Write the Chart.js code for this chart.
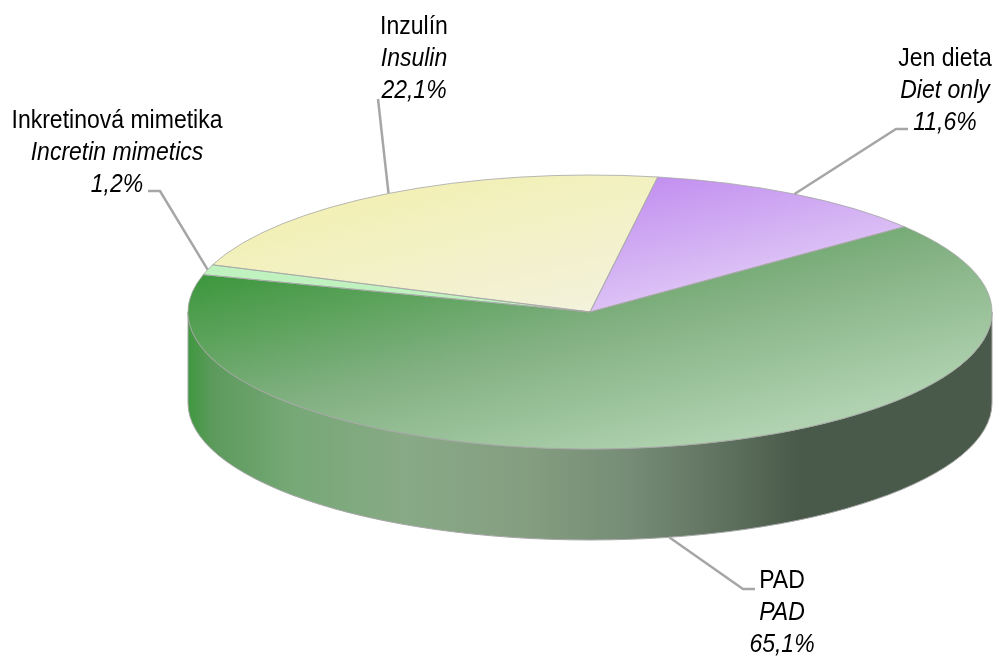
<!DOCTYPE html>
<html lang="cs">
<head>
    <meta charset="UTF-8">
    <title>Pie 3D</title>
    <script src="https://cdn.jsdelivr.net/npm/chart.js"></script>
    <style>
        body { margin: 0; background: white; }
        canvas { display: block; }
    </style>
</head>
<body>
    <canvas id="pieChart" width="996" height="661"></canvas>
    <script>
        const categoriesCz = ['Jen dieta', 'PAD', 'Inkretinová mimetika', 'Inzulín'];
        const categoriesEn = ['Diet only', 'PAD', 'Incretin mimetics', 'Insulin'];
        const values = [11.6, 65.1, 1.2, 22.1];

        const squash = 137 / 402; // tilt of the pie, height of ellipse / width
        const depth = 91;         // height of the side wall
        const narrow = 0.885;     // no narrow font installed, so the text gets squeezed

        // where each label sits: centre x, first baseline, start of the leader line
        const labelPlaces = [
            { x: 945, y: 66, leader: [[908, 129], [896, 129]] },
            { x: 782, y: 588, leader: [[755, 589], [743, 589]] },
            { x: 117, y: 128, leader: [[148, 191], [160, 191]] },
            { x: 414, y: 34, leader: [[378, 99]] }
        ];

        // slice gradients, given by screen points at both ends
        const sliceFills = [
            { from: [660, 180], to: [860, 275], stops: [[0, '#c391f0'], [1, '#e2cdf6']] },
            { from: [200, 280], to: [700, 447], stops: [[0, '#3f983f'], [0.5, '#82b082'], [1, '#b0d2b0']] },
            { from: [200, 280], to: [700, 447], stops: [[0, '#bff2bf'], [1, '#bff2bf']] },
            { from: [300, 210], to: [600, 310], stops: [[0, '#f2f0b4'], [1, '#f3f2dc']] }
        ];

        const wallStops = [
            [0, '#3f983f'], [0.03, '#5c9a5c'], [0.13, '#76a876'], [0.27, '#88aa86'],
            [0.42, '#849e80'], [0.55, '#768c76'], [0.65, '#627562'], [0.76, '#4a5a4a'], [1, '#4a5a4a']
        ];

        function sliceGradient(ctx, fill, cy) {
            // the fill runs under the squashed transform so go back to unsquashed coords
            const un = p => [p[0], cy + (p[1] - cy) / squash];
            const a = un(fill.from), b = un(fill.to);
            const nx = 0.58, ny = 0.815;
            const len = (b[0] - a[0]) * nx + (b[1] - a[1]) * ny;
            const g = ctx.createLinearGradient(a[0], a[1], a[0] + len * nx, a[1] + len * ny);
            fill.stops.forEach(s => g.addColorStop(s[0], s[1]));
            return g;
        }

        function squashed(ctx, arc) {
            ctx.translate(arc.x, arc.y);
            ctx.scale(1, squash);
            ctx.translate(-arc.x, -arc.y);
        }

        function narrowText(ctx, text, x, y) {
            ctx.save();
            ctx.translate(x, y);
            ctx.scale(narrow, 1);
            ctx.fillText(text, 0, 0);
            ctx.restore();
        }

        const pie3d = {
            id: 'pie3d',
            beforeDatasetsDraw(chart) {
                const ctx = chart.ctx;
                const arcs = chart.getDatasetMeta(0).data;
                const rx = arcs[0].outerRadius, ry = rx * squash;
                const cx = arcs[0].x, cy = arcs[0].y;

                // side wall of the slices which face the viewer
                const wall = ctx.createLinearGradient(cx - rx, 0, cx + rx, 0);
                wallStops.forEach(s => wall.addColorStop(s[0], s[1]));
                arcs.forEach(arc => {
                    const start = Math.max(arc.startAngle, 0);
                    const end = Math.min(arc.endAngle, Math.PI);
                    if (end <= start) return;
                    ctx.beginPath();
                    ctx.ellipse(cx, cy, rx, ry, 0, start, end);
                    ctx.ellipse(cx, cy + depth, rx, ry, 0, end, start, true);
                    ctx.closePath();
                    ctx.fillStyle = wall;
                    ctx.fill();
                    ctx.strokeStyle = '#a6a6a6';
                    ctx.lineWidth = 1;
                    ctx.stroke();
                });

                ctx.save();
                squashed(ctx, arcs[0]);
            },
            afterDatasetsDraw(chart) {
                const ctx = chart.ctx;
                ctx.restore();
                const arcs = chart.getDatasetMeta(0).data;

                // thin outline, stroked outside of the transform to keep it even
                arcs.forEach(arc => {
                    ctx.save();
                    squashed(ctx, arc);
                    ctx.beginPath();
                    ctx.moveTo(arc.x, arc.y);
                    ctx.arc(arc.x, arc.y, arc.outerRadius, arc.startAngle, arc.endAngle);
                    ctx.closePath();
                    ctx.restore();
                    ctx.strokeStyle = '#a6a6a6';
                    ctx.lineWidth = 0.8;
                    ctx.stroke();
                });

                arcs.forEach((arc, i) => {
                    const place = labelPlaces[i];
                    const mid = (arc.startAngle + arc.endAngle) / 2;
                    let ax = arc.x + arc.outerRadius * Math.cos(mid);
                    let ay = arc.y + arc.outerRadius * squash * Math.sin(mid);
                    if (Math.sin(mid) > 0) ay += depth;

                    ctx.beginPath();
                    ctx.moveTo(place.leader[0][0], place.leader[0][1]);
                    place.leader.slice(1).forEach(p => ctx.lineTo(p[0], p[1]));
                    ctx.lineTo(ax, ay);
                    ctx.strokeStyle = '#a6a6a6';
                    ctx.lineWidth = 2.5;
                    ctx.stroke();

                    ctx.fillStyle = 'black';
                    ctx.textAlign = 'center';
                    ctx.textBaseline = 'alphabetic';
                    ctx.font = '26px "Liberation Sans", sans-serif';
                    narrowText(ctx, categoriesCz[i], place.x, place.y);
                    ctx.font = 'italic 26px "Liberation Sans", sans-serif';
                    narrowText(ctx, categoriesEn[i], place.x, place.y + 32);
                    narrowText(ctx, values[i].toFixed(1).replace('.', ',') + '%', place.x, place.y + 64);
                });
            }
        };

        new Chart(document.getElementById('pieChart').getContext('2d'), {
            type: 'pie',
            data: {
                labels: categoriesCz,
                datasets: [{
                    data: values,
                    borderWidth: 0,
                    backgroundColor: c => sliceGradient(c.chart.ctx, sliceFills[c.dataIndex], 312)
                }]
            },
            options: {
                responsive: false,
                animation: false,
                radius: 402,
                rotation: 9.7,
                layout: { padding: { left: 184, bottom: 37 } },
                plugins: { legend: { display: false }, tooltip: { enabled: false } }
            },
            plugins: [pie3d]
        });
    </script>
</body>
</html>
